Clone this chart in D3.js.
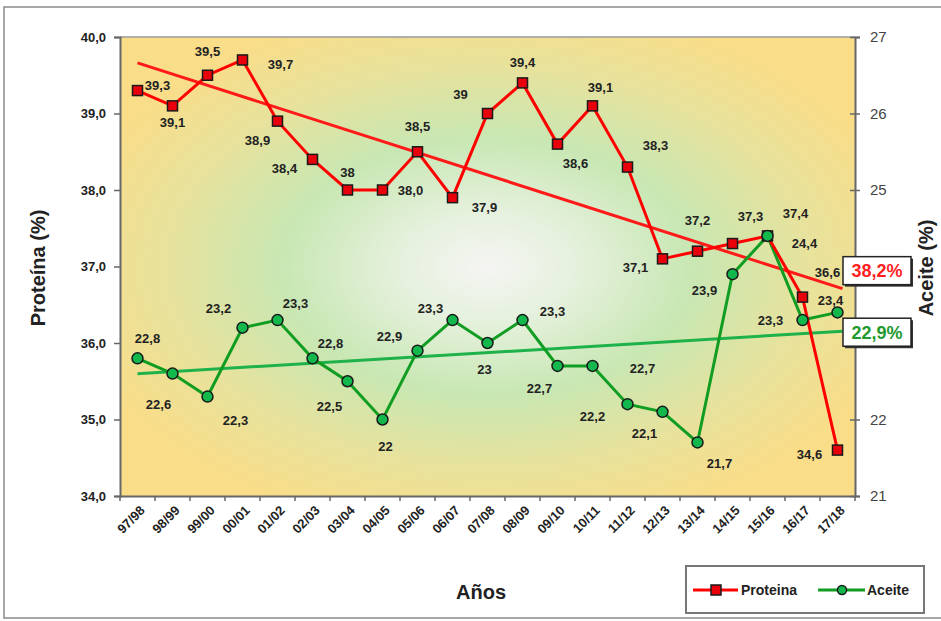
<!DOCTYPE html>
<html>
<head>
<meta charset="utf-8">
<script src="https://cdn.jsdelivr.net/npm/d3@7"></script>
<style>
  body { margin: 0; background: #fff; }
  text { font-family: "Liberation Sans", Arial, sans-serif; }
</style>
</head>
<body>
<div id="chart"></div>
<script>
// data
let years = ["97/98","98/99","99/00","00/01","01/02","02/03","03/04","04/05","05/06","06/07",
             "07/08","08/09","09/10","10/11","11/12","12/13","13/14","14/15","15/16","16/17","17/18"];
let proteina = [39.3,39.1,39.5,39.7,38.9,38.4,38.0,38.0,38.5,37.9,39.0,39.4,38.6,39.1,38.3,37.1,37.2,37.3,37.4,36.6,34.6];
let aceite = [22.8,22.6,22.3,23.2,23.3,22.8,22.5,22.0,22.9,23.3,23.0,23.3,22.7,22.7,22.2,22.1,21.7,23.9,24.4,23.3,23.4];
let proteinaLabels = ["39,3","39,1","39,5","39,7","38,9","38,4","38","38,0","38,5","37,9","39","39,4","38,6","39,1","38,3","37,1","37,2","37,3","37,4","36,6","34,6"];
let aceiteLabels = ["22,8","22,6","22,3","23,2","23,3","22,8","22,5","22","22,9","23,3","23","23,3","22,7","22,7","22,2","22,1","21,7","23,9","24,4","23,3","23,4"];
let leftTicks = [34,35,36,37,38,39,40];
let rightTicks = [21,22,23,24,25,26,27];
let rightTickLabels = [21,22,25,26,27]; // 23 and 24 sit under the average boxes

// label placement (offsets from each point, px)
let protOff = [[20,-5],[0,17],[0,-24],[38,4],[-20,19],[-28,9],[0,-18],[28,0],[0,-25],[32,10],
               [-27,-19],[0,-20],[18,19],[8,-18],[28,-22],[-27,9],[0,-31],[18,-27],[28,-22],[25,-25],[-28,4]];
let aceOff = [[10,-20],[-14,31],[28,24],[-24,-19],[18,-17],[18,-15],[-18,25],[3,27],[-28,-14],[-22,-12],
              [-3,26],[30,-9],[-18,22],[50,2],[-35,12],[-18,22],[22,21],[-28,16],[37,8],[-32,0],[-7,-12]];

let width = 941;
let height = 621;
let plot = {left: 120, right: 855, top: 37, bottom: 496};

let svg = d3.select("#chart")
  .append("svg")
  .attr("width", width)
  .attr("height", height);

// outer frame
svg.append("rect")
  .attr("x", 4).attr("y", 7)
  .attr("width", 945).attr("height", 611)
  .attr("fill", "none")
  .attr("stroke", "#8a8a8a")
  .attr("stroke-width", 1.5);

let x = d3.scaleBand().domain(years).range([plot.left, plot.right]);
let cx = d => x(d) + x.bandwidth() / 2;
let yL = d3.scaleLinear().domain([34, 40]).range([plot.bottom, plot.top]);
let yR = d3.scaleLinear().domain([21, 27]).range([plot.bottom, plot.top]);

// background gradient
let defs = svg.append("defs");
let grad = defs.append("radialGradient")
  .attr("id", "bg")
  .attr("cx", "0.5").attr("cy", "0.5").attr("r", "0.58");
grad.append("stop").attr("offset", "0%").attr("stop-color", "#f5f5f3");
grad.append("stop").attr("offset", "20%").attr("stop-color", "#e6f1de");
grad.append("stop").attr("offset", "48%").attr("stop-color", "#c8e7b3");
grad.append("stop").attr("offset", "76%").attr("stop-color", "#e8e29c");
grad.append("stop").attr("offset", "100%").attr("stop-color", "#f9dd89");

svg.append("rect")
  .attr("x", plot.left).attr("y", plot.top)
  .attr("width", plot.right - plot.left)
  .attr("height", plot.bottom - plot.top)
  .attr("fill", "url(#bg)");

svg.append("line")
  .attr("x1", plot.left).attr("x2", plot.right)
  .attr("y1", plot.top).attr("y2", plot.top)
  .attr("stroke", "#9a9a9a").attr("stroke-width", 1.5);

// left axis
let gL = svg.append("g").attr("transform", "translate(" + plot.left + ",0)")
  .call(d3.axisLeft(yL).tickValues(leftTicks).tickSize(6).tickPadding(8)
    .tickFormat(d => d3.format(".1f")(d).replace(".", ",")));
gL.select(".domain").attr("stroke", "#666").attr("stroke-width", 2);
gL.selectAll(".tick line").attr("stroke", "#666").attr("stroke-width", 1.5);
gL.selectAll("text").style("font-size", "13px").style("font-weight", "bold").attr("fill", "#222");

// right axis
let gR = svg.append("g").attr("transform", "translate(" + plot.right + ",0)")
  .call(d3.axisRight(yR).tickValues(rightTicks).tickSize(5).tickPadding(10).tickFormat(d3.format("d")));
gR.select(".domain").attr("stroke", "#666").attr("stroke-width", 2);
gR.selectAll(".tick line").attr("x1", -5).attr("stroke", "#666").attr("stroke-width", 1.5);
gR.selectAll(".tick text").filter(d => rightTickLabels.indexOf(d) < 0).remove();
gR.selectAll("text").style("font-size", "15px").attr("fill", "#444");

// bottom axis
let gB = svg.append("g").attr("transform", "translate(0," + plot.bottom + ")")
  .call(d3.axisBottom(x).tickSize(0).tickPadding(0));
gB.select(".domain").attr("stroke", "#666").attr("stroke-width", 2);
gB.selectAll(".tick text")
  .style("font-size", "13px").style("font-weight", "bold").attr("fill", "#222")
  .attr("text-anchor", "end")
  .attr("transform", "translate(5,12) rotate(-45)")
  .attr("dy", "0.35em");
svg.append("g")
  .selectAll("line")
  .data(years.concat(["end"]))
  .enter()
  .append("line")
  .attr("x1", (d, i) => plot.left + i * x.step())
  .attr("x2", (d, i) => plot.left + i * x.step())
  .attr("y1", plot.bottom).attr("y2", plot.bottom + 5)
  .attr("stroke", "#666").attr("stroke-width", 1.5);

// trend lines (least squares, like the spreadsheet)
function trend(vals) {
  let n = vals.length;
  let mx = (n - 1) / 2;
  let my = d3.mean(vals);
  let sxy = d3.sum(vals, (v, i) => (i - mx) * (v - my));
  let sxx = d3.sum(vals, (v, i) => (i - mx) * (i - mx));
  let b = sxy / sxx;
  return [my - b * mx, my + b * (n - 1 - mx)];
}
let tP = trend(proteina);
let tA = trend(aceite);

svg.append("line")
  .attr("x1", cx(years[0])).attr("y1", yL(tP[0]))
  .attr("x2", cx(years[years.length - 1]) + 5).attr("y2", yL(tP[1]))
  .attr("stroke", "#ff1a1a").attr("stroke-width", 3);
svg.append("line")
  .attr("x1", cx(years[0])).attr("y1", yR(tA[0]))
  .attr("x2", cx(years[years.length - 1]) + 5).attr("y2", yR(tA[1]))
  .attr("stroke", "#1fb24a").attr("stroke-width", 3);

// series lines
let lineP = d3.line().x((d, i) => cx(years[i])).y(d => yL(d));
let lineA = d3.line().x((d, i) => cx(years[i])).y(d => yR(d));

svg.append("path").datum(aceite).attr("d", lineA)
  .attr("fill", "none").attr("stroke", "#119c22").attr("stroke-width", 3);
svg.append("path").datum(proteina).attr("d", lineP)
  .attr("fill", "none").attr("stroke", "#ff0000").attr("stroke-width", 3);

svg.append("g").selectAll("rect")
  .data(proteina).enter().append("rect")
  .attr("x", (d, i) => cx(years[i]) - 5)
  .attr("y", d => yL(d) - 5)
  .attr("width", 10).attr("height", 10)
  .attr("fill", "#e8000b").attr("stroke", "#1a1a1a").attr("stroke-width", 1.5);

svg.append("g").selectAll("circle")
  .data(aceite).enter().append("circle")
  .attr("cx", (d, i) => cx(years[i]))
  .attr("cy", d => yR(d))
  .attr("r", 5.5)
  .attr("fill", "#12b84c").attr("stroke", "#1a1a1a").attr("stroke-width", 1.5);

// value labels
svg.append("g").selectAll("text")
  .data(proteina).enter().append("text")
  .attr("x", (d, i) => cx(years[i]) + protOff[i][0])
  .attr("y", (d, i) => yL(d) + protOff[i][1])
  .attr("text-anchor", "middle").attr("dy", "0.35em")
  .style("font-size", "13px").style("font-weight", "bold").attr("fill", "#222")
  .text((d, i) => proteinaLabels[i]);

svg.append("g").selectAll("text")
  .data(aceite).enter().append("text")
  .attr("x", (d, i) => cx(years[i]) + aceOff[i][0])
  .attr("y", (d, i) => yR(d) + aceOff[i][1])
  .attr("text-anchor", "middle").attr("dy", "0.35em")
  .style("font-size", "13px").style("font-weight", "bold").attr("fill", "#222")
  .text((d, i) => aceiteLabels[i]);

// average boxes
let fmtPct = v => d3.format(".1f")(v).replace(".", ",") + "%";
function avgBox(cy, txt, color) {
  let g = svg.append("g");
  g.append("rect")
    .attr("x", 845).attr("y", cy - 13)
    .attr("width", 68).attr("height", 28)
    .attr("fill", "#333");
  g.append("rect")
    .attr("x", 843).attr("y", cy - 15)
    .attr("width", 68).attr("height", 28)
    .attr("fill", "#fff").attr("stroke", "#222").attr("stroke-width", 1.5);
  g.append("text")
    .attr("x", 877).attr("y", cy - 1)
    .attr("text-anchor", "middle").attr("dy", "0.35em")
    .style("font-size", "18px").style("font-weight", "bold")
    .attr("fill", color)
    .text(txt);
}
avgBox(yL(tP[1]) - 17, fmtPct(d3.mean(proteina)), "#ff1f1f");
avgBox(yR(tA[1]) + 2, fmtPct(d3.mean(aceite)), "#1e9a2e");

// axis titles
svg.append("text")
  .attr("transform", "translate(45,268) rotate(-90)")
  .attr("text-anchor", "middle")
  .style("font-size", "20px").style("font-weight", "bold").attr("fill", "#222")
  .text("Proteína (%)");
svg.append("text")
  .attr("transform", "translate(933,268) rotate(-90)")
  .attr("text-anchor", "middle")
  .style("font-size", "20px").style("font-weight", "bold").attr("fill", "#222")
  .text("Aceite (%)");
svg.append("text")
  .attr("x", 481).attr("y", 599)
  .attr("text-anchor", "middle")
  .style("font-size", "20px").style("font-weight", "bold").attr("fill", "#222")
  .text("Años");

// legend
let lg = svg.append("g");
lg.append("rect")
  .attr("x", 686).attr("y", 566).attr("width", 238).attr("height", 47)
  .attr("fill", "#fff").attr("stroke", "#777").attr("stroke-width", 2);
lg.append("line").attr("x1", 693).attr("x2", 738).attr("y1", 590).attr("y2", 590)
  .attr("stroke", "#ff0000").attr("stroke-width", 3);
lg.append("rect").attr("x", 711).attr("y", 585).attr("width", 10).attr("height", 10)
  .attr("fill", "#e8000b").attr("stroke", "#1a1a1a").attr("stroke-width", 1.5);
lg.append("text").attr("x", 741).attr("y", 590).attr("dy", "0.35em")
  .style("font-size", "14px").style("font-weight", "bold").attr("fill", "#222")
  .text("Proteina");
lg.append("line").attr("x1", 818).attr("x2", 865).attr("y1", 590).attr("y2", 590)
  .attr("stroke", "#119c22").attr("stroke-width", 3);
lg.append("circle").attr("cx", 842).attr("cy", 590).attr("r", 4.5)
  .attr("fill", "#12b84c").attr("stroke", "#1a1a1a").attr("stroke-width", 1.5);
lg.append("text").attr("x", 867).attr("y", 590).attr("dy", "0.35em")
  .style("font-size", "14px").style("font-weight", "bold").attr("fill", "#222")
  .text("Aceite");
</script>
</body>
</html>
